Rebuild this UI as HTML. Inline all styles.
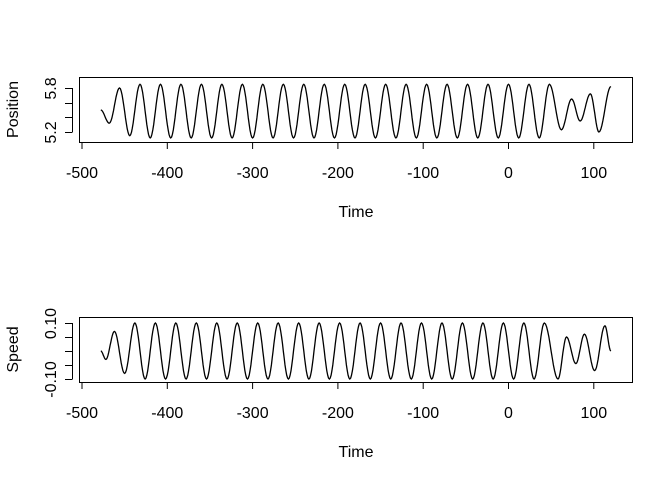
<!DOCTYPE html>
<html><head><meta charset="utf-8"><style>
body{margin:0;background:#fff}
svg text{font-family:"Liberation Sans",Arial,sans-serif;font-size:16px;fill:#000}
</style></head><body>
<svg id="c" width="672" height="480" xmlns="http://www.w3.org/2000/svg"></svg>
<script>
// Position extrema (time, value)
const posTimes=[-478,-468,-456,-444,-432,-420,-408,-396,-384,-372,-360,-348,-336,-324,-312,-300,-288,-276,-264,-252,-240,-228,-216,-204,-192,-180,-168,-156,-144,-132,-120,-108,-96,-84,-72,-60,-48,-36,-24,-12,0,12,24,36,48,62,74,84,96,106,120];
const posValues=[5.5,5.32,5.8,5.15,5.85,5.12,5.85,5.12,5.85,5.12,5.85,5.12,5.85,5.12,5.85,5.12,5.85,5.12,5.85,5.12,5.85,5.12,5.85,5.12,5.85,5.12,5.85,5.12,5.85,5.12,5.85,5.12,5.85,5.12,5.85,5.12,5.85,5.12,5.85,5.12,5.85,5.12,5.85,5.12,5.85,5.23,5.65,5.35,5.72,5.2,5.82];
// Speed extrema (time, value)
const spdTimes=[-478,-472,-462,-450,-438,-426,-414,-402,-390,-378,-366,-354,-342,-330,-318,-306,-294,-282,-270,-258,-246,-234,-222,-210,-198,-186,-174,-162,-150,-138,-126,-114,-102,-90,-78,-66,-54,-42,-30,-18,-6,6,18,30,42,58,68,79,89,101,113,120];
const spdValues=[0,-0.03,0.07,-0.08,0.1,-0.1,0.1,-0.1,0.1,-0.1,0.1,-0.1,0.1,-0.1,0.1,-0.1,0.1,-0.1,0.1,-0.1,0.1,-0.1,0.1,-0.1,0.1,-0.1,0.1,-0.1,0.1,-0.1,0.1,-0.1,0.1,-0.1,0.1,-0.1,0.1,-0.1,0.1,-0.1,0.1,-0.1,0.1,-0.1,0.1,-0.1,0.05,-0.045,0.06,-0.07,0.09,0];
const xTicks=[-500,-400,-300,-200,-100,0,100];
const posTicks=[5.2,5.4,5.6,5.8];
const posLabels=["5.2","","","5.8"];
const spdTicks=[-0.1,-0.05,0,0.05,0.1];
const spdLabels=["-0.10","","","","0.10"];

const svg=document.getElementById('c');
const NS='http://www.w3.org/2000/svg';
function mk(t,a){const e=document.createElementNS(NS,t);for(const k in a)e.setAttribute(k,a[k]);svg.appendChild(e);return e;}
const X=t=>82+(t+500)*0.853;

function panel(top,bot,ymin,ymax,yOfMin,yOfMax,times,vals,ticks,labels,title,key){
  const Y=v=>yOfMin+(v-ymin)*(yOfMax-yOfMin)/(ymax-ymin);
  let r=mk('rect',{x:79.5,y:top+0.5,width:553,height:bot-top,fill:'none',stroke:'#000'});
  
  
  let d='';
  for(let i=0;i<times.length-1;i++){
    const t0=times[i],t1=times[i+1],v0=vals[i],v1=vals[i+1];
    for(let s=0;s<=12;s++){
      const f=s/12,w=(1-Math.cos(Math.PI*f))/2;
      const xx=X(t0+(t1-t0)*f),yy=Y(v0+(v1-v0)*w);
      d+=(d?'L':'M')+xx.toFixed(1)+' '+yy.toFixed(1);
    }
  }
  const p=mk('path',{d:d,fill:'none',stroke:'#000','stroke-width':1.3});
  
  
  const ax=mk('line',{x1:X(-500),x2:X(100),y1:bot+0.5,y2:bot+0.5,stroke:'#000'});
  
  
  xTicks.forEach(t=>{
    mk('line',{x1:X(t),x2:X(t),y1:bot,y2:bot+7,stroke:'#000'});
    const tx=mk('text',{x:X(t),y:bot+36,'text-anchor':'middle'});tx.textContent=t;
    
    
  });
  const xt=mk('text',{x:356,y:bot+75,'text-anchor':'middle'});xt.textContent='Time';
  
  
  const ay=mk('line',{x1:72.5,x2:72.5,y1:Y(ticks[0]),y2:Y(ticks[ticks.length-1]),stroke:'#000'});
  
  
  ticks.forEach((t,i)=>{
    const yy=Math.round(Y(t))+0.5;
    mk('line',{x1:65,x2:72.5,y1:yy,y2:yy,stroke:'#000'});
    if(labels[i]){const tx=mk('text',{x:0,y:0,'text-anchor':'middle',transform:`translate(56,${yy}) rotate(-90)`});tx.textContent=labels[i];
      
      }
  });
  const yt=mk('text',{x:0,y:0,'text-anchor':'middle',transform:`translate(18,${(top+bot)/2}) rotate(-90)`});yt.textContent=title;
  
  
}
panel(77,142,5.2,5.8,132,88,posTimes,posValues,posTicks,posLabels,'Position','position');
panel(317,382,-0.1,0.1,379,323,spdTimes,spdValues,spdTicks,spdLabels,'Speed','speed');
</script>
</body></html>
